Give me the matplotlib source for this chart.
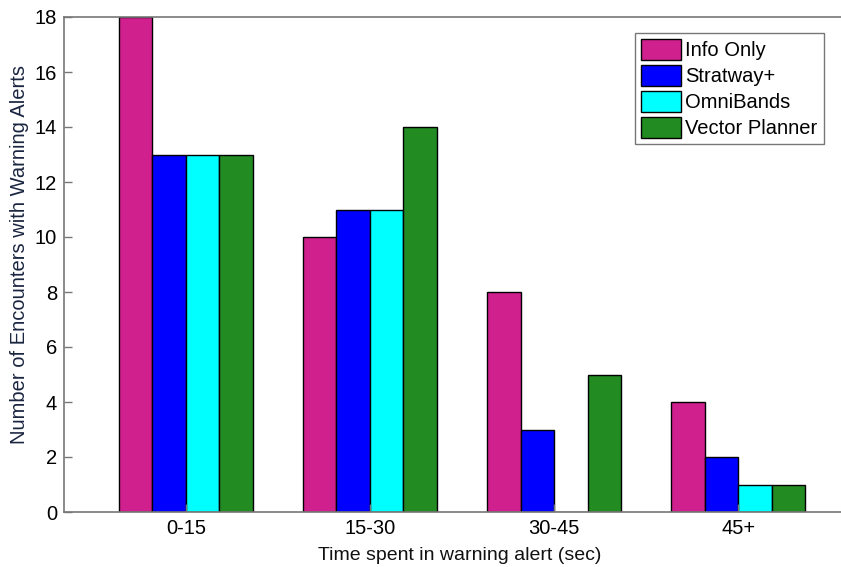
import matplotlib
matplotlib.use("Agg")
import matplotlib.pyplot as plt
import numpy as np

plt.rcParams['font.family'] = ['Liberation Sans', 'DejaVu Sans']

categories = ["0-15", "15-30", "30-45", "45+"]
series_names = ["Info Only", "Stratway+", "OmniBands", "Vector Planner"]
info_only = [18, 10, 8, 4]
stratway = [13, 11, 3, 2]
omnibands = [13, 11, 0, 1]
vector_planner = [13, 14, 5, 1]
colors = ["#D0208E", "#0000FF", "#00FFFF", "#228B22"]

W, H = 841, 567
fig = plt.figure(figsize=(W / 100, H / 100), dpi=100)
# axes: left 64px, bottom at 512px, top at 17px, right extends beyond image (~860px)
ax = fig.add_axes([64 / W, (H - 512) / H, (860 - 64) / W, (512 - 17) / H])

x = np.arange(1, len(categories) + 1)
bw = 0.182
data = [info_only, stratway, omnibands, vector_planner]
for i, (vals, name, c) in enumerate(zip(data, series_names, colors)):
    ax.bar(x + (i - 1.5) * bw, vals, width=bw, color=c, edgecolor="black",
           linewidth=1.0, label=name)

ax.set_xlim(0.338, 4.662)
ax.set_ylim(0, 18)
ax.set_yticks(np.arange(0, 19, 2))
ax.set_xticks(x)
ax.set_xticklabels(categories)
ax.tick_params(direction="in", length=6, width=1, colors="#777777",
               labelcolor="black", labelsize=14.5, pad=5)
for s in ax.spines.values():
    s.set_color("#777777")
    s.set_linewidth(1.2)

ax.set_xlabel("Time spent in warning alert (sec)", fontsize=14, color="#111111")
ax.set_ylabel("Number of Encounters with Warning Alerts", fontsize=14.5, color="#1a2540")
ax.xaxis.set_label_coords((460 - 64) / 796, (512 - 547) / 495)
ax.yaxis.set_label_coords((29 - 64) / 796, (512 - 254) / 495)

leg = ax.legend(loc="upper left", bbox_to_anchor=((635 - 64) / (860 - 64), (512 - 33) / (512 - 17)),
                fontsize=14.5, frameon=True, fancybox=False, edgecolor="#555555",
                handlelength=2.0, handleheight=1.25, handletextpad=0.2, labelspacing=0.22,
                borderpad=0.3, borderaxespad=0)
leg.get_frame().set_linewidth(1.0)

fig.savefig("out.png", dpi=100)
